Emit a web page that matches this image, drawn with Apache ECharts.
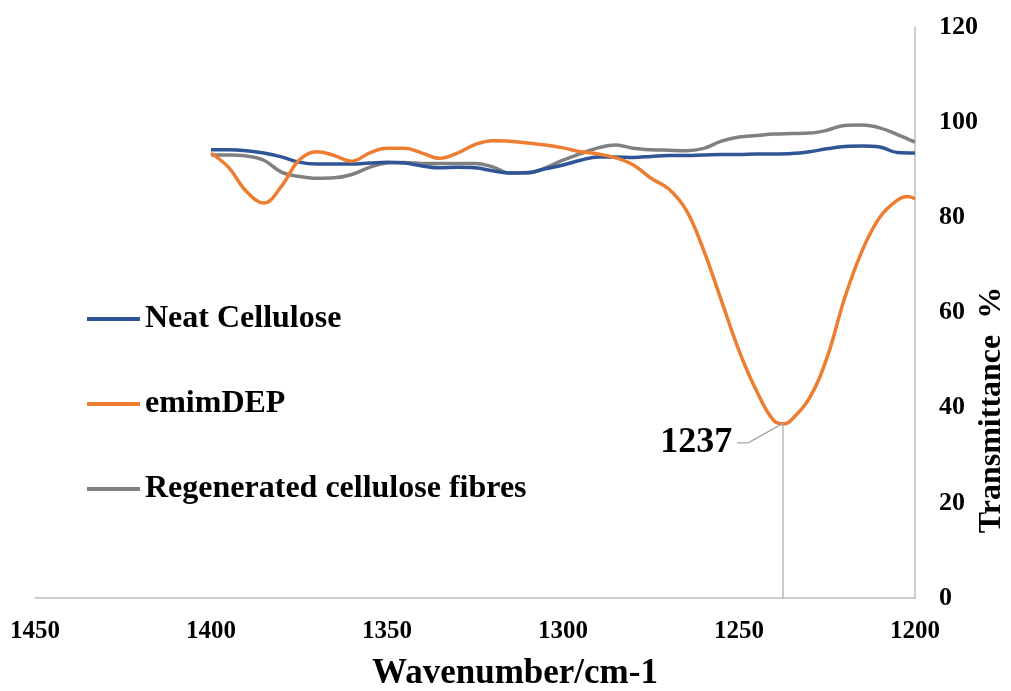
<!DOCTYPE html>
<html>
<head>
<meta charset="utf-8">
<script src="https://cdn.jsdelivr.net/npm/echarts@6/dist/echarts.min.js"></script>
<style>
html,body{margin:0;padding:0;background:#fff;}
#chart{width:1011px;height:691px;}
</style>
</head>
<body>
<div id="chart"></div>
<script>
// Wavenumbers (cm-1)
var wavenumbers = [1400,1395,1390,1385,1380,1375,1370,1365,1360,1355,1350,1345,1340,1335,1330,1325,1320,1315,1310,1305,1300,1295,1290,1285,1280,1275,1270,1265,1260,1255,1250,1245,1240,1235,1230,1225,1220,1215,1210,1205,1200];
var neatCellulose = [94.2,94.2,94.0,93.5,92.7,91.6,91.2,91.2,91.2,91.4,91.6,91.4,90.8,90.4,90.5,90.4,89.8,89.3,89.4,90.2,91.0,92.0,92.7,92.7,92.6,92.8,93.0,93.0,93.1,93.2,93.2,93.3,93.3,93.4,93.8,94.4,94.9,95.0,94.8,93.6,93.5];
var emimDEPWn = [1400,1395,1390,1385,1380,1375,1370,1365,1360,1355,1350,1345,1340,1335,1330,1325,1320,1315,1310,1305,1300,1295,1290,1285,1280,1275,1270,1265,1260,1255,1250,1245,1240,1237,1235,1230,1225,1220,1215,1210,1205,1202,1200];
var emimDEP = [93.5,90.5,85.5,83.0,86.5,92.0,93.8,93.0,91.8,93.5,94.5,94.5,93.5,92.4,93.5,95.3,96.1,96.0,95.6,95.2,94.6,93.8,93.3,92.5,91.0,88.2,86.0,81.5,73.0,62.5,52.0,43.5,37.2,36.6,37.5,42.0,50.5,63.0,73.0,80.0,83.6,84.4,83.9];
var regenerated = [93.1,93.1,92.9,92.0,89.5,88.6,88.2,88.3,89.0,90.5,91.4,91.5,91.3,91.3,91.3,91.3,90.6,89.3,89.3,90.4,92.0,93.4,94.6,95.2,94.5,94.2,94.1,94.0,94.5,96.0,96.9,97.2,97.5,97.6,97.7,98.3,99.3,99.4,98.8,97.4,95.8];
var seriesNames = ['Neat Cellulose','emimDEP','Regenerated cellulose fibres'];
var xTicks = [1450,1400,1350,1300,1250,1200];
var yTicks = [0,20,40,60,80,100,120];
// Peak annotation (data coordinates)
var peakLabel = '1237';
var peakX = [1237.5, 1237.5];
var peakYLine = [0, 36.7];
var leaderX = [1237.5, 1247.4, 1250.5];
var leaderY = [36.7, 32.6, 32.6];

function zip(xs, ys){ return xs.map(function(x,i){ return [x, ys[i]]; }); }

var serif = "'Liberation Serif','Times New Roman',serif";
var colors = ['#2F5597','#ED7D31','#808080'];

var chart = echarts.init(document.getElementById('chart'), null, {renderer:'canvas'});
chart.setOption({
  animation:false,
  backgroundColor:'#ffffff',
  grid:{left:35, right:96, top:27, bottom:93, containLabel:false, outerBoundsMode:'none'},
  legend:{
    data:seriesNames,
    orient:'vertical', left:82, top:298,
    icon:'rect', itemWidth:53, itemHeight:4, itemGap:53,
    textStyle:{fontFamily:serif, fontWeight:'bold', fontSize:32, color:'#000', lineHeight:32}
  },
  xAxis:{
    type:'value', inverse:true, min:1200, max:1450, interval:50,
    name:'Wavenumber/cm-1', nameLocation:'middle', nameGap:58,
    nameTextStyle:{fontFamily:serif, fontWeight:'bold', fontSize:35, color:'#000', padding:[0,0,0,80]},
    axisLine:{show:true, lineStyle:{color:'#bfbfbf', width:1.5}},
    axisTick:{show:false}, splitLine:{show:false},
    axisLabel:{fontFamily:serif, fontWeight:'bold', fontSize:25, color:'#000', margin:21,
      formatter:function(v){ return xTicks.indexOf(v) >= 0 ? String(v) : ''; }}
  },
  yAxis:{
    type:'value', position:'right', min:0, max:120, interval:20,
    axisLine:{show:true, lineStyle:{color:'#bfbfbf', width:1.5}},
    axisTick:{show:false}, splitLine:{show:false},
    axisLabel:{fontFamily:serif, fontWeight:'bold', fontSize:26, color:'#000', margin:24,
      formatter:function(v){ return yTicks.indexOf(v) >= 0 ? String(v) : ''; }}
  },
  graphic:[{
    type:'text', x:992, y:410, rotation:Math.PI/2,
    style:{text:'Transmittance  %', font:'bold 32px ' + serif, fill:'#000', textAlign:'center', textVerticalAlign:'middle'}
  }],
  series:[
    {name:seriesNames[0], type:'line', data:zip(wavenumbers, neatCellulose), smooth:0.4, showSymbol:false,
     lineStyle:{color:colors[0], width:3.5}, itemStyle:{color:colors[0]}, z:3},
    {name:seriesNames[1], type:'line', data:zip(emimDEPWn, emimDEP), smooth:0.4, showSymbol:false,
     lineStyle:{color:colors[1], width:3.5}, itemStyle:{color:colors[1]}, z:4},
    {name:seriesNames[2], type:'line', data:zip(wavenumbers, regenerated), smooth:0.4, showSymbol:false,
     lineStyle:{color:colors[2], width:3.5}, itemStyle:{color:colors[2]}, z:2},
    {name:'peak', type:'line', data:zip(peakX, peakYLine), showSymbol:false, silent:true,
     lineStyle:{color:'#a6a6a6', width:1.2}, z:5},
    {name:'leader', type:'line', data:zip(leaderX, leaderY), silent:true,
     symbol:'none', lineStyle:{color:'#a6a6a6', width:1.2}, z:5,
     endLabel:{show:true, formatter:peakLabel, position:'left', distance:5,
       fontFamily:serif, fontWeight:'bold', fontSize:36, color:'#000', align:'right', verticalAlign:'middle'}}
  ]
});
</script>
</body>
</html>
